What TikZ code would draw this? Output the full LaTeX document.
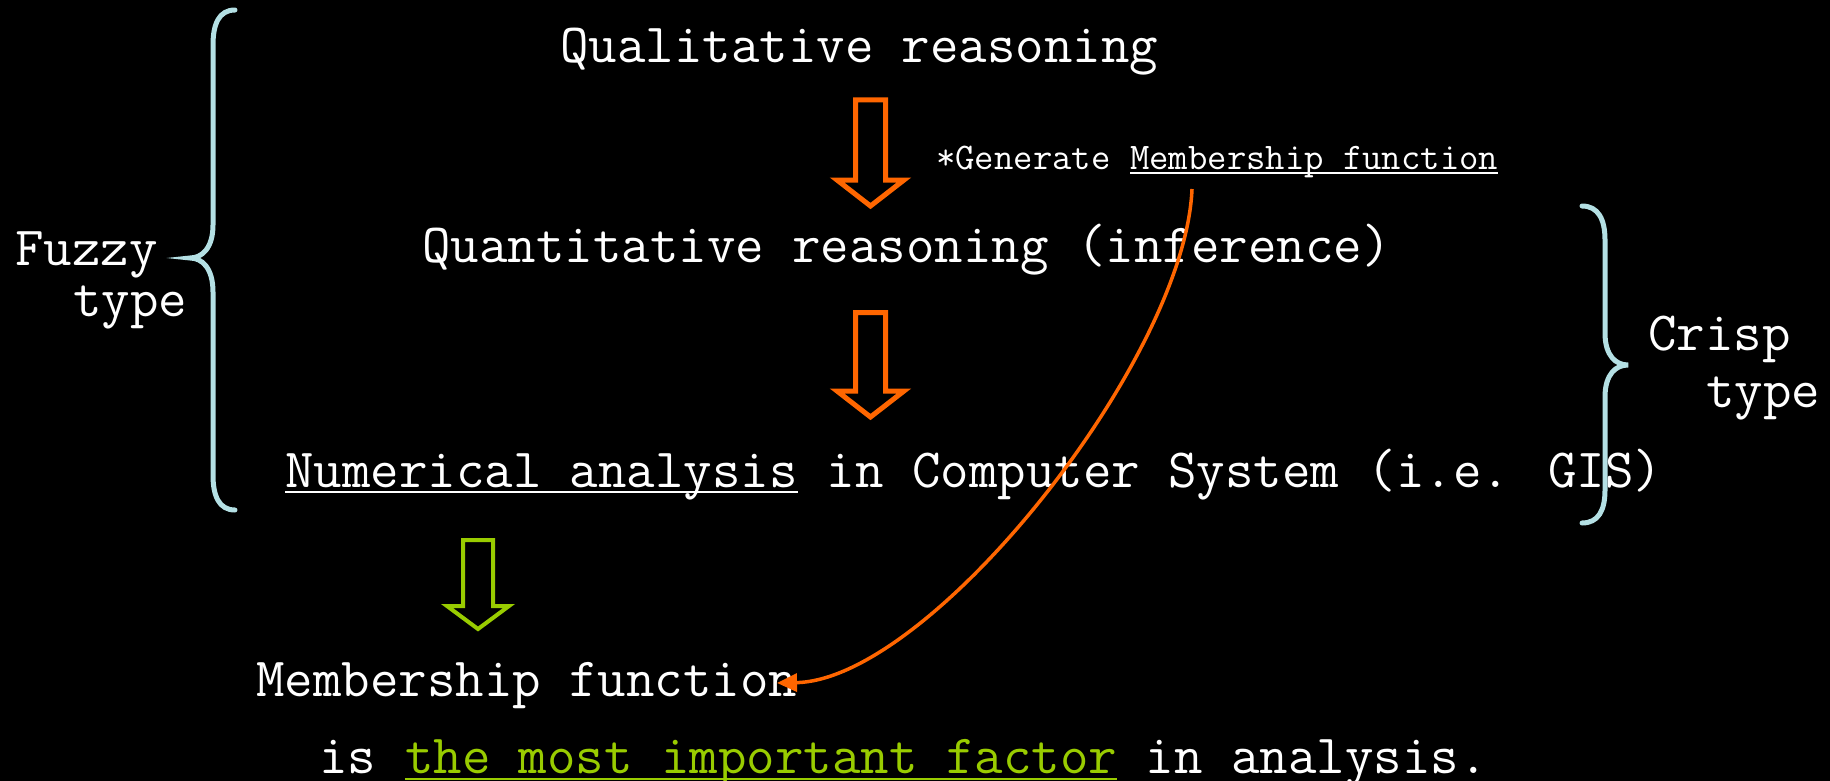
\documentclass[tikz,border=0pt]{standalone}
\usepackage{fontspec}
\usetikzlibrary{arrows.meta}
\definecolor{orng}{RGB}{255,102,0}
\definecolor{grn}{RGB}{153,204,0}
\definecolor{brc}{RGB}{180,224,228}
\tikzset{
  txt/.style={anchor=base west, inner sep=0pt, text=white, font=\ttfamily\fontsize{55.3}{66}\selectfont},
  smalltxt/.style={anchor=base west, inner sep=0pt, text=white, font=\ttfamily\fontsize{37.6}{45}\selectfont},
  brace/.style={draw=brc, line width=5pt, line cap=round},
  oblock/.style={draw=orng, line width=5pt, fill=black},
  gblock/.style={draw=grn, line width=4pt, fill=black},
  uline/.style={line width=2.5pt},
  curvearrow/.style={draw=orng, line width=3.5pt, -{Triangle[length=20pt,width=18pt]}}
}
\begin{document}
\begin{tikzpicture}[x=1pt,y=-1pt]
\fill[black] (0,0) rectangle (1830,781);
\useasboundingbox (0,0) rectangle (1830,781);

% braces
\draw[brace] (235,10) .. controls (219,10) and (213,24) .. (213,45) -- (213,225)
  .. controls (213,248) and (202,258) .. (190,258)
  .. controls (202,258) and (213,268) .. (213,292) -- (213,475)
  .. controls (213,496) and (219,510) .. (235,510);
\draw[brace] (1582,206) .. controls (1598,206) and (1605,219) .. (1605,240) -- (1605,333)
  .. controls (1605,356) and (1616,365) .. (1628,365)
  .. controls (1616,365) and (1605,374) .. (1605,397) -- (1605,490)
  .. controls (1605,511) and (1598,523) .. (1582,523);

% side labels
\node[txt] (fuzzy) at (15,265) {Fuzzy};
\node[txt] (fuzzytype) at (73,316) {type};
\node[txt] (crisp) at (1648,350) {Crisp};
\node[txt] (crisptype) at (1706,407) {type};

% main lines
\node[txt] (qual) at (560,63) {Qualitative reasoning};
\node[smalltxt] (gen) at (936,169) {*Generate\ \null};
\node[smalltxt] (genmf) at (gen.base east) {Membership function};
\draw[white, uline] ([yshift=-4pt]genmf.base west) -- ([yshift=-4pt]genmf.base east);

\node[txt] (quant) at (422,262) {Quantitative reasoning (inference)};

\node[txt] (num) at (285,487) {Numerical analysis};
\node[txt] (numrest) at (num.base east) {\ in Computer System (i.e. GIS)};
\draw[white, uline] ([yshift=-5pt]num.base west) -- ([yshift=-5pt]num.base east);

\node[txt] (mf) at (256,696) {Membership function};

\node[txt] (is) at (319,773) {is\ \null};
\node[txt, text=grn] (imp) at (is.base east) {the most important factor};
\node[txt] (rest) at (imp.base east) {\ in analysis.};
\draw[grn, uline] ([yshift=-6pt]imp.base west) -- ([yshift=-6pt]imp.base east);

% block arrows
\draw[oblock] (855.5,100) -- (885.5,100) -- (885.5,180) -- (904,180) -- (870.5,206) -- (837,180) -- (855.5,180) -- cycle;
\draw[oblock] (855.5,312.5) -- (885.5,312.5) -- (885.5,391) -- (904,391) -- (870.5,417) -- (837,391) -- (855.5,391) -- cycle;
\draw[gblock] (463,540) -- (493,540) -- (493,606) -- (509,606) -- (478,629) -- (447,606) -- (463,606) -- cycle;

% curved connector
\coordinate (cstart) at (1192,189);
\coordinate (ctip) at (777,683);
\draw[curvearrow] (cstart) .. controls (1185,360) and (930,680) .. (ctip);
\end{tikzpicture}
\end{document}
